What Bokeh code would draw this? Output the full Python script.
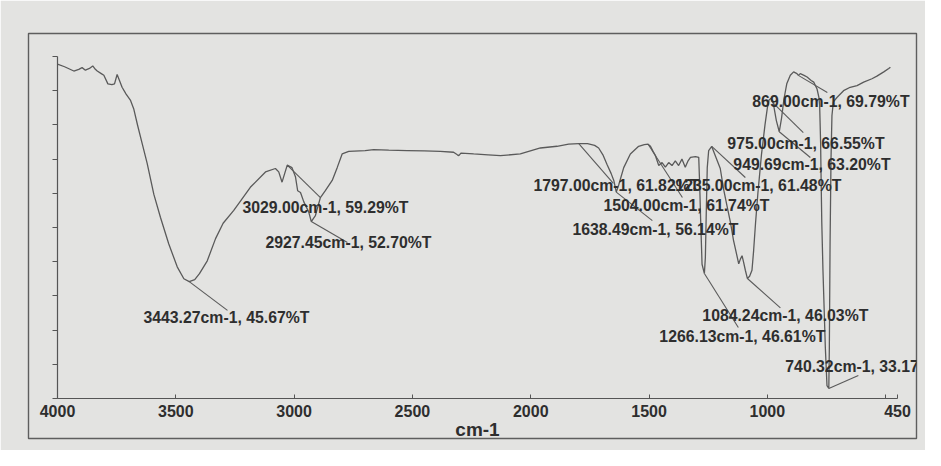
from bokeh.plotting import figure
from bokeh.models import Range1d, FixedTicker, ColumnDataSource, LabelSet
from bokeh.core.properties import value
from bokeh.embed import file_html
from bokeh.resources import INLINE

# ---- spectrum (wavenumber cm-1, %T) ----
wavenumber = [4000, 3970, 3931, 3910, 3896, 3882, 3865, 3851, 3840, 3832, 3815, 3804,
              3787, 3770, 3759, 3748, 3738, 3727, 3710, 3692, 3678, 3661, 3642, 3621,
              3593, 3565, 3530, 3494, 3466, 3443.27, 3420, 3400, 3367, 3332, 3300, 3255,
              3185, 3121, 3079, 3065, 3051, 3040, 3029, 3009, 2994, 2985, 2973, 2959,
              2938, 2927.45, 2910, 2889, 2868, 2839, 2818, 2797, 2769, 2700, 2664, 2600,
              2522, 2450, 2382, 2326, 2310, 2304, 2295, 2241, 2180, 2128, 2044, 1959,
              1889, 1840, 1797, 1760, 1730, 1713, 1695, 1678, 1660, 1649, 1638.49, 1628,
              1607, 1579, 1544, 1520, 1504, 1494, 1483, 1473, 1459, 1445, 1431, 1417,
              1403, 1389, 1375, 1361, 1347, 1335, 1325, 1304, 1290, 1286, 1282, 1276,
              1266.13, 1262, 1258, 1254, 1248, 1235, 1220, 1199, 1185, 1171, 1156, 1143,
              1135, 1121, 1114, 1107, 1100, 1093, 1084.24, 1075, 1065, 1058, 1050, 1040,
              1025, 1010, 1000, 993, 985, 975, 962, 949.69, 940, 930, 918, 903, 889, 875,
              869, 861, 845, 832, 815, 804, 790, 782, 779, 775, 773, 770, 765, 755, 748,
              740.32, 738, 735, 731, 727, 721, 706, 678, 650, 621, 593, 558, 537, 508,
              487, 480]
transmittance = [71.1, 70.8, 70.3, 70.5, 70.7, 70.4, 70.6, 70.9, 70.5, 70.3, 70.0, 69.8,
                 68.8, 68.7, 68.8, 69.9, 69.2, 68.4, 67.6, 66.9, 65.9, 63.9, 61.8, 59.5,
                 55.9, 53.2, 50.1, 47.4, 46.0, 45.67, 45.9, 46.6, 48.1, 50.7, 52.5, 54.0,
                 56.7, 58.5, 58.9, 58.5, 57.3, 58.3, 59.29, 59.0, 57.9, 56.3, 56.1, 55.0,
                 53.8, 52.70, 53.4, 55.5, 56.3, 57.5, 59.0, 60.6, 60.9, 61.0, 61.1, 61.05,
                 61.0, 60.95, 60.9, 60.8, 60.5, 60.4, 60.7, 60.6, 60.5, 60.4, 60.6, 61.3,
                 61.5, 61.75, 61.82, 61.8, 61.6, 61.3, 60.5, 59.4, 58.3, 57.5, 56.14, 57.0,
                 59.0, 60.6, 61.5, 61.7, 61.74, 61.5, 60.9, 60.4, 59.25, 59.6, 59.05, 59.6,
                 59.25, 59.8, 59.25, 60.0, 59.05, 59.8, 60.2, 60.3, 60.2, 57.0, 53.0, 47.7,
                 46.61, 48.5, 54.0, 59.0, 61.0, 61.48, 60.4, 58.9, 56.5, 54.6, 52.6, 50.5,
                 49.5, 47.75, 48.3, 48.7, 47.9, 47.0, 46.03, 46.3, 47.0, 49.3, 52.5, 56.0,
                 60.5, 64.0, 66.0, 66.9, 67.1, 66.55, 64.5, 63.2, 64.8, 67.0, 68.8, 69.8,
                 70.2, 70.0, 69.79, 70.0, 69.8, 69.6, 69.2, 69.0, 68.2, 67.2, 66.3, 62.0,
                 58.0, 52.6, 47.0, 38.0, 33.5, 33.17, 38.0, 50.0, 60.0, 65.1, 66.7, 67.2,
                 68.0, 68.4, 68.6, 69.0, 69.4, 69.7, 70.2, 70.6, 70.75]

# ---- peak annotations ----
peak_wn = [3443.27, 3029.00, 2927.45, 1797.00, 1235.00, 1504.00, 1638.49,
           1084.24, 1266.13, 740.32, 869.00, 975.00, 949.69]
peak_t = [45.67, 59.29, 52.70, 61.82, 61.48, 61.74, 56.14,
          46.03, 46.61, 33.17, 69.79, 66.55, 63.20]
peak_text = ["3443.27cm-1, 45.67%T", "3029.00cm-1, 59.29%T", "2927.45cm-1, 52.70%T",
             "1797.00cm-1, 61.82%T", "1235.00cm-1, 61.48%T", "1504.00cm-1, 61.74%T",
             "1638.49cm-1, 56.14%T", "1084.24cm-1, 46.03%T", "1266.13cm-1, 46.61%T",
             "740.32cm-1, 33.17", "869.00cm-1, 69.79%T", "975.00cm-1, 66.55%T",
             "949.69cm-1, 63.20%T"]

# ---- axis ticks ----
x_ticks = [4000, 3500, 3000, 2500, 2000, 1500, 1000, 500, 450]
x_tick_labels = [4000, 3500, 3000, 2500, 2000, 1500, 1000, 450]
y_ticks = [32, 36, 40, 44, 48, 52, 56, 60, 64, 68, 72]
x_title = "cm-1"

# ---- layout (label anchors = left/middle of text, leader ends), data units ----
label_wn = [3636.6, 3218.3, 3121.1, 1988.7, 1388.8, 1693.0, 1824.0,
            1274.7, 1456.4, 924.0, 1063.5, 1169.0, 1143.7]
label_t = [41.47, 54.34, 50.25, 56.9, 56.9, 54.57, 51.77,
           41.7, 39.25, 35.74, 66.74, 61.8, 59.37]
leader_wn = [3281.7, 2888.7, 2774.7, 1650.8, 1093.0, 1359.0, 1486.0,
             945.0, 1122.6, 615.5, 746.6, 848.0, 818.4]
leader_t = [42.3, 55.5, 50.25, 57.15, 57.85, 55.5, 52.8,
            42.6, 40.3, 34.7, 67.8, 63.1, 60.19]
TICK_LABEL_Y = 30.48
TITLE_Y = 28.37
X_LO, X_HI = 4000, 450
Y_LO, Y_HI = 32, 72

BG = "#e3e3e1"
INK = "#555555"
TXT = "#2e2e2e"
FONT = "Liberation Sans"

# frame = the printed outer box; the spectrum axes sit inside it
p = figure(width=925, height=450, output_backend="svg", toolbar_location=None,
           x_range=Range1d(4122.5, 369.7), y_range=Range1d(27.32, 74.69),
           frame_width=888, frame_height=405,
           min_border_left=28, min_border_right=9, min_border_top=33,
           min_border_bottom=12)
p.background_fill_color = BG
p.border_fill_color = BG
p.outline_line_color = "#5e5e5e"
p.outline_line_width = 1.4
p.grid.visible = False

p.line(wavenumber, transmittance, line_color="#5a5a5a", line_width=1.3)

lead = ColumnDataSource(dict(x0=peak_wn, y0=peak_t, x1=leader_wn, y1=leader_t))
p.segment(x0="x0", y0="y0", x1="x1", y1="y1", source=lead,
          line_color="#5a5a5a", line_width=1.1)

lab = ColumnDataSource(dict(x=label_wn, y=label_t, text=peak_text))
p.add_layout(LabelSet(x="x", y="y", text="text", source=lab,
                      text_font=value(FONT), text_font_size="15.8px",
                      text_font_style="bold", text_color=TXT,
                      text_baseline="middle", text_align="left"))

# x axis drawn at %T = 32, line limited to 4000..450
xa = p.xaxis[0]
xa.fixed_location = Y_LO
xa.bounds = (X_HI, X_LO)
xa.ticker = FixedTicker(ticks=[], minor_ticks=x_ticks)
xa.major_tick_line_color = None
xa.minor_tick_in = 4
xa.minor_tick_out = 0
xa.minor_tick_line_color = INK
xa.axis_line_color = INK
xa.axis_line_width = 1.2

tick_src = ColumnDataSource(dict(x=x_tick_labels,
                                 y=[TICK_LABEL_Y] * len(x_tick_labels),
                                 t=[str(v) for v in x_tick_labels]))
p.text(x="x", y="y", text="t", source=tick_src, text_font=value(FONT),
       text_font_size="16px", text_font_style="bold", text_color=TXT,
       text_align="center", text_baseline="middle")
p.text(x=[(X_LO + X_HI) / 2], y=[TITLE_Y], text=[x_title], text_font=value(FONT),
       text_font_size="19px", text_font_style="bold", text_color=TXT,
       text_align="center", text_baseline="middle")

# y axis drawn at 4000 cm-1, ticks only
ya = p.yaxis[0]
ya.fixed_location = X_LO
ya.bounds = (Y_LO, Y_HI)
ya.ticker = FixedTicker(ticks=[], minor_ticks=y_ticks)
ya.major_tick_line_color = None
ya.minor_tick_in = 0
ya.minor_tick_out = 5
ya.minor_tick_line_color = INK
ya.axis_line_color = INK
ya.axis_line_width = 1.2

open("out.html", "w").write(file_html(p, INLINE))
